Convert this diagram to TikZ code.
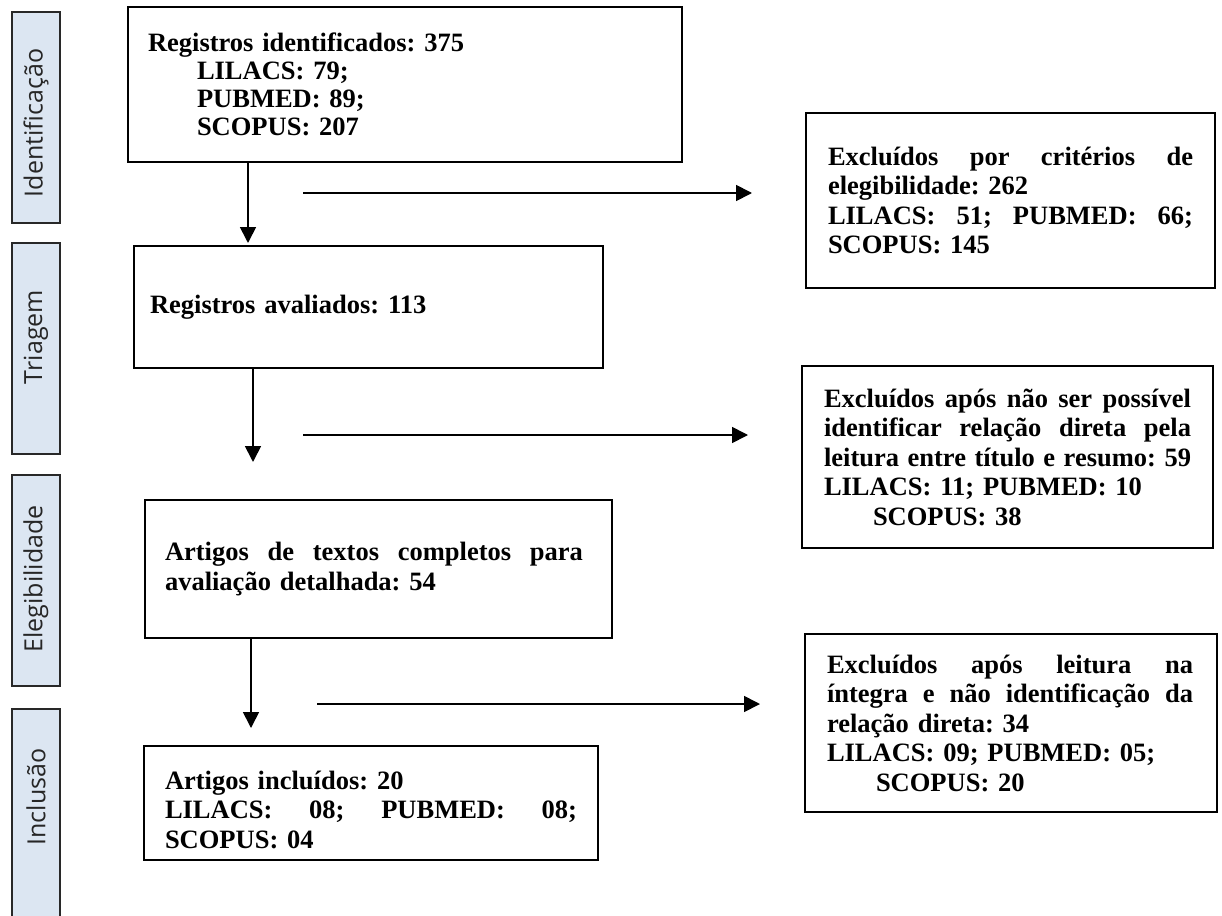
\documentclass[tikz,border=0pt]{standalone}
\usepackage{fontspec}
\setmainfont{Liberation Serif}
\newfontfamily\sidefnt{Open Sans}
\usetikzlibrary{arrows.meta}
\frenchspacing
\definecolor{sideblue}{RGB}{220,230,242}
\definecolor{sideedge}{RGB}{40,40,40}
\newcommand\jl[2]{\leavevmode\hbox to #1{#2}}
\tikzset{
  mbox/.style={draw=black, line width=1.7pt, inner ysep=0pt, align=left,
    font=\fontsize{26.5}{29.5}\selectfont\bfseries},
  sidebox/.style={draw=sideedge, fill=sideblue, line width=2pt, minimum width=48pt, inner sep=0pt},
  sidetext/.style={rotate=90, font=\fontsize{25}{28}\selectfont\sidefnt, text=black!85, inner sep=0pt},
  arr/.style={line width=1.7pt, -{Triangle[length=16pt,width=16pt]}}
}
\begin{document}
\begin{tikzpicture}[x=1pt,y=-1pt]
\useasboundingbox (0,0) rectangle (1222,915);
% side labels
\node[sidebox, minimum height=211pt] (s1) at (36,117.5) {};
\node[sidetext] (s1t) at (36,123) {Identificação};
\node[sidebox, minimum height=211pt] (s2) at (36,348.5) {};
\node[sidetext] (s2t) at (36,337) {Triagem};
\node[sidebox, minimum height=211pt] (s3) at (36,580.5) {};
\node[sidetext] (s3t) at (36,579) {Elegibilidade};
\node[sidebox, minimum height=240pt] (s4) at (36,829) {};
\node[sidetext] (s4t) at (36,797) {Inclusão};
% main boxes
\node[mbox, font=\fontsize{26.5}{28}\selectfont\bfseries, text width=514pt, inner xsep=20pt, minimum height=155pt] (a) at (405,84.5)
 {Registros identificados: 375\\
  \hspace*{49pt}LILACS: 79;\\
  \hspace*{49pt}PUBMED: 89;\\
  \hspace*{49pt}SCOPUS: 207};
\node[mbox, text width=437pt, inner xsep=16pt, minimum height=122pt] (b) at (368.5,307)
 {Registros avaliados: 113};
\node[mbox, text width=365pt, inner xsep=22pt, minimum height=175pt] (c) at (1010.5,200.5)
 {\jl{365pt}{Excluídos\hfill por\hfill critérios\hfill de}\\
  elegibilidade: 262\\
  \jl{365pt}{LILACS:\hfill 51;\hfill PUBMED:\hfill 66;}\\
  SCOPUS: 145};
\node[mbox, text width=367pt, inner xsep=22pt, minimum height=182pt] (d) at (1007.5,457)
 {\jl{367pt}{Excluídos\hfill após\hfill não\hfill ser\hfill possível}\\
  \jl{367pt}{identificar\hfill relação\hfill direta\hfill pela}\\
  \jl{367pt}{leitura\hfill entre\hfill título\hfill e\hfill resumo:\hfill 59}\\
  LILACS: 11; PUBMED: 10\\
  \hspace*{49pt}SCOPUS: 38};
\node[mbox, text width=427pt, inner xsep=20pt, minimum height=138pt] (e) at (378.5,569)
 {\jl{418pt}{Artigos\hfill de\hfill textos\hfill completos\hfill para}\\
  avaliação detalhada: 54};
\node[mbox, text width=368pt, inner xsep=22pt, minimum height=178pt] (f) at (1011,723)
 {\jl{366pt}{Excluídos\hfill após\hfill leitura\hfill na}\\
  \jl{366pt}{íntegra\hfill e\hfill não\hfill identificação\hfill da}\\
  relação direta: 34\\
  LILACS: 09; PUBMED: 05;\\
  \hspace*{49pt}SCOPUS: 20};
\node[mbox, text width=412pt, inner xsep=21pt, minimum height=114pt] (g) at (371,803)
 {\rule{0pt}{32pt}Artigos incluídos: 20\\
  \jl{412pt}{LILACS:\hfill 08;\hfill PUBMED:\hfill 08;}\\
  SCOPUS: 04};
% connector ends
\coordinate (v1) at (248,243);
\coordinate (v2) at (253,462);
\coordinate (v3) at (251,728);
\coordinate (h1s) at (303,193);
\coordinate (h1e) at (752,193);
\coordinate (h2s) at (303,435);
\coordinate (h2e) at (748,435);
\coordinate (h3s) at (317,704);
\coordinate (h3e) at (760,704);
% connectors
\draw[arr] (a.south -| v1) -- (v1);
\draw[arr] (b.south -| v2) -- (v2);
\draw[arr] (e.south -| v3) -- (v3);
\draw[arr] (h1s) -- (h1e);
\draw[arr] (h2s) -- (h2e);
\draw[arr] (h3s) -- (h3e);
\end{tikzpicture}
\end{document}
